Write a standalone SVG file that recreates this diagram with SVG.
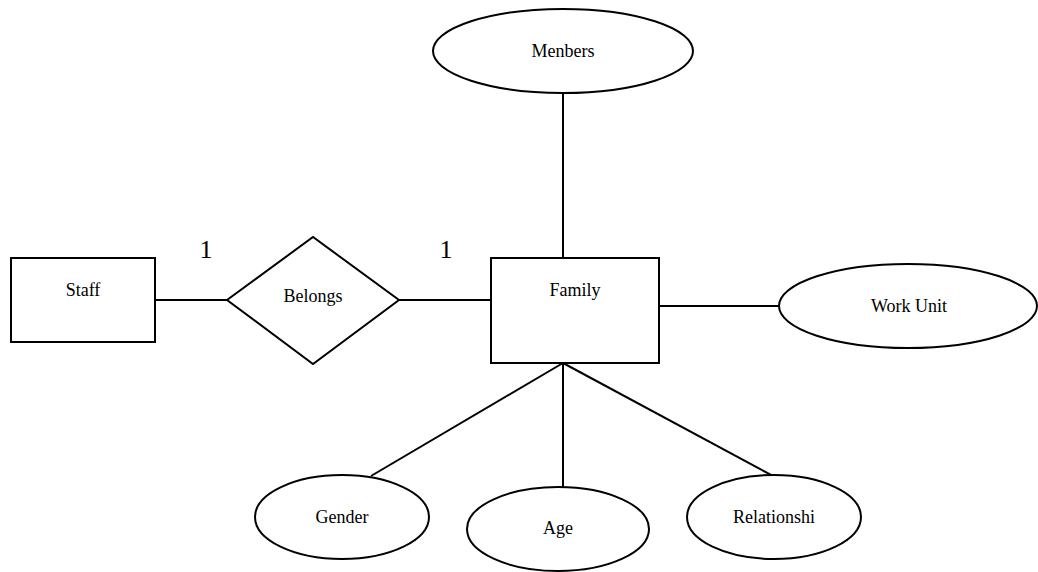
<svg xmlns="http://www.w3.org/2000/svg" width="1038" height="572" viewBox="0 0 1038 572">
<style>
.s{fill:#fff;stroke:#000;stroke-width:2}
.l{stroke:#000;stroke-width:2;fill:none}
text{font-family:"Liberation Serif","Times New Roman",serif;font-size:18px;fill:#000;text-anchor:middle}
.c{font-size:26px}
</style>
<rect width="1038" height="572" fill="#fff"/>
<g id="connectors">
<line class="l" x1="155" y1="300" x2="227" y2="300"/>
<line class="l" x1="399" y1="300" x2="491" y2="300"/>
<line class="l" x1="563" y1="93" x2="563" y2="258"/>
<line class="l" x1="659" y1="306" x2="779" y2="306"/>
<line class="l" x1="563" y1="363" x2="371" y2="476"/>
<line class="l" x1="563" y1="363" x2="563" y2="487"/>
<line class="l" x1="563" y1="363" x2="773" y2="476"/>
<text class="c" x="206" y="258">1</text>
<text class="c" x="446" y="258">1</text>
</g>
<g id="staff"><rect class="s" x="11" y="258" width="144" height="84"/><text x="83" y="296">Staff</text></g>
<g id="belongs"><polygon class="s" points="227,300 313,237 399,300 313,364"/><text x="313" y="302">Belongs</text></g>
<g id="family"><rect class="s" x="491" y="258" width="168" height="105"/><text x="575" y="296">Family</text></g>
<g id="menbers"><ellipse class="s" cx="563" cy="51" rx="130" ry="42"/><text x="563" y="57">Menbers</text></g>
<g id="workunit"><ellipse class="s" cx="908" cy="306" rx="129" ry="42"/><text x="909" y="312">Work Unit</text></g>
<g id="gender"><ellipse class="s" cx="342" cy="517" rx="87" ry="42"/><text x="342" y="523">Gender</text></g>
<g id="age"><ellipse class="s" cx="558" cy="529" rx="91" ry="42"/><text x="558" y="534">Age</text></g>
<g id="relationshi"><ellipse class="s" cx="774" cy="517" rx="87" ry="42"/><text x="774" y="523">Relationshi</text></g>
</svg>
